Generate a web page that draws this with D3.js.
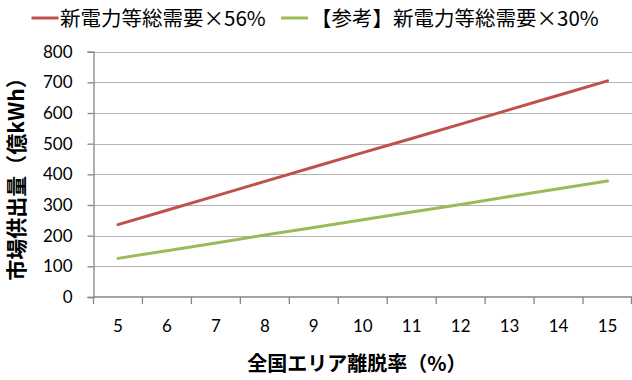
<!DOCTYPE html>
<html>
<head>
<meta charset="utf-8">
<script src="https://cdn.jsdelivr.net/npm/d3@7"></script>
<style>
  body { margin: 0; background: #fff; }
  svg { display: block; }
  .tick text { font-family: Lato, "Liberation Sans", sans-serif; font-size: 17px; fill: #000; }
  .jp { font-family: "Noto Sans CJK JP", sans-serif; fill: #000; }
</style>
</head>
<body>
<svg id="chart" width="632" height="380"></svg>
<script>
// Data
var categories = [5, 6, 7, 8, 9, 10, 11, 12, 13, 14, 15];
var demand56 = [236, 283, 330, 377, 424, 471, 517, 564, 611, 658, 705];
var demand30 = [126, 151, 176, 202, 227, 252, 277, 302, 328, 353, 378];
var yTicks = [0, 100, 200, 300, 400, 500, 600, 700, 800];
var seriesNames = ["新電力等総需要×56%", "【参考】新電力等総需要×30%"];
var seriesColors = ["#C0504D", "#9BBB59"];

var svg = d3.select("#chart");

// plot area edges (not named top/left: those clash with window globals)
var plotL = 93.5, plotR = 632, plotT = 51.7, plotB = 297;

var x = d3.scaleBand().domain(categories).range([plotL, plotR]).padding(0);
var y = d3.scaleLinear().domain([0, 800]).range([plotB, plotT]);

// Horizontal gridlines (skip 0, the x axis sits there)
svg.append("g").selectAll("line")
  .data(yTicks.filter(function (d) { return d > 0; }))
  .enter().append("line")
  .attr("x1", plotL).attr("x2", plotR)
  .attr("y1", function (d) { return Math.round(y(d)) + 0.5; })
  .attr("y2", function (d) { return Math.round(y(d)) + 0.5; })
  .attr("stroke", "#b3b3b3").attr("stroke-width", 1.2);

// Y axis
var yAxis = svg.append("g")
  .attr("transform", "translate(" + plotL + ",0)")
  .call(d3.axisLeft(y).tickValues(yTicks).tickSize(6).tickPadding(15));
yAxis.select(".domain").attr("stroke", "#868686").attr("stroke-width", 1.3);
yAxis.selectAll(".tick line").attr("stroke", "#868686").attr("stroke-width", 1.3);

// X axis: line plus tick marks between categories (Excel style)
var xAxisG = svg.append("g");
xAxisG.append("line")
  .attr("x1", plotL).attr("x2", plotR)
  .attr("y1", plotB).attr("y2", plotB)
  .attr("stroke", "#868686").attr("stroke-width", 1.3);

var edges = categories.map(function (c) { return x(c); }).concat([plotR - 0.5]);
xAxisG.selectAll("line.tk").data(edges).enter().append("line").classed("tk", true)
  .attr("x1", function (d) { return d; }).attr("x2", function (d) { return d; })
  .attr("y1", plotB).attr("y2", plotB + 7)
  .attr("stroke", "#868686").attr("stroke-width", 1.3);

xAxisG.selectAll("text").data(categories).enter().append("text")
  .attr("x", function (d) { return x(d) + x.bandwidth() / 2; })
  .attr("y", 332)
  .attr("text-anchor", "middle")
  .style("font-family", "Lato, 'Liberation Sans', sans-serif")
  .style("font-size", "17px")
  .text(function (d) { return d; });

// Lines
var line = d3.line()
  .x(function (d, i) { return x(categories[i]) + x.bandwidth() / 2; })
  .y(function (d) { return y(d); });

[demand56, demand30].forEach(function (vals, i) {
  svg.append("path")
    .datum(vals)
    .attr("d", line)
    .attr("fill", "none")
    .attr("stroke", seriesColors[i])
    .attr("stroke-width", 3)
    .attr("stroke-linecap", "round");
});

// Legend
var legendPos = [{ lx: 31.5, tx: 60 }, { lx: 281, tx: 311 }];
seriesNames.forEach(function (name, i) {
  svg.append("line")
    .attr("x1", legendPos[i].lx).attr("x2", legendPos[i].lx + 27)
    .attr("y1", 18).attr("y2", 18)
    .attr("stroke", seriesColors[i]).attr("stroke-width", 3);
  svg.append("text").attr("class", "jp")
    .attr("x", legendPos[i].tx).attr("y", 25.5)
    .style("font-size", "20.5px")
    .text(name);
});

// Axis titles
svg.append("text").attr("class", "jp")
  .attr("transform", "translate(24,174) rotate(-90)")
  .attr("text-anchor", "middle")
  .style("font-size", "21px").style("font-weight", "bold")
  .text("市場供出量（億kWh）");

svg.append("text").attr("class", "jp")
  .attr("x", 357).attr("y", 371)
  .attr("text-anchor", "middle")
  .style("font-size", "20px").style("font-weight", "bold")
  .text("全国エリア離脱率（%）");
</script>
</body>
</html>
